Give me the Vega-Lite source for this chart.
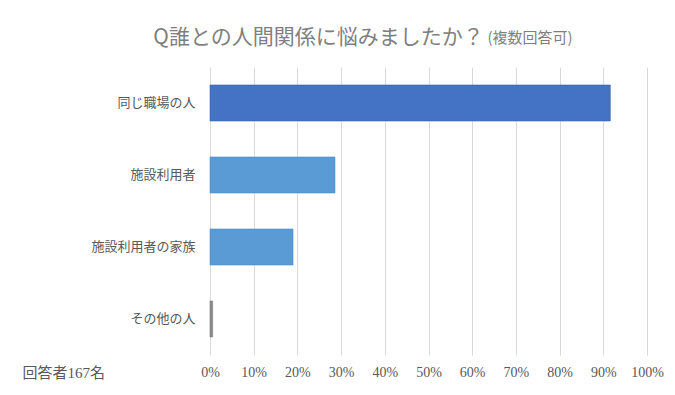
{
  "$schema": "https://vega.github.io/schema/vega-lite/v6.json",
  "autosize": {"type": "none"},
  "width": 437,
  "height": 288,
  "padding": {"left": 210, "top": 67, "right": 28, "bottom": 40},
  "background": "white",
  "title": {
    "text": "Q誰との人間関係に悩みましたか？",
    "font": "Noto Sans CJK JP",
    "fontSize": 21,
    "fontWeight": "normal",
    "color": "#7f7f7f",
    "anchor": "middle",
    "frame": "group",
    "baseline": "middle",
    "dx": -110,
    "dy": 29,
    "offset": 0
  },
  "data": {
    "values": [
      {"target": "同じ職場の人", "share": 0.916},
      {"target": "施設利用者", "share": 0.286},
      {"target": "施設利用者の家族", "share": 0.19},
      {"target": "その他の人", "share": 0.006}
    ]
  },
  "mark": {"type": "bar", "strokeWidth": 0.6},
  "encoding": {
    "y": {
      "field": "target",
      "type": "nominal",
      "sort": null,
      "scale": {"paddingInner": 0.5, "paddingOuter": 0.25},
      "axis": {
        "title": "(複数回答可)",
        "titleAngle": 0,
        "titleX": 277,
        "titleY": -30,
        "titleAlign": "left",
        "titleBaseline": "middle",
        "titleFont": "Noto Sans CJK JP",
        "titleFontSize": 15,
        "titleFontWeight": "normal",
        "titleColor": "#7f7f7f",
        "domain": false,
        "ticks": false,
        "labelPadding": 15,
        "labelFont": "Noto Sans CJK JP",
        "labelFontSize": 13,
        "labelColor": "#595959"
      }
    },
    "x": {
      "field": "share",
      "type": "quantitative",
      "scale": {"domain": [0, 1]},
      "axis": {
        "values": [0, 0.1, 0.2, 0.3, 0.4, 0.5, 0.6, 0.7, 0.8, 0.9, 1],
        "format": ".0%",
        "labelOverlap": false,
        "labelBound": false,
        "labelFlush": false,
        "grid": true,
        "gridColor": "#d9d9d9",
        "gridWidth": 1,
        "domain": false,
        "ticks": false,
        "labelPadding": 10,
        "labelFont": "Liberation Serif",
        "labelFontSize": 14,
        "labelColor": "#595959",
        "title": "回答者167名",
        "titleAngle": 0,
        "titleX": -188,
        "titleY": 17,
        "titleAlign": "left",
        "titleBaseline": "middle",
        "titleFont": "Liberation Serif, Noto Sans CJK JP",
        "titleFontSize": 15,
        "titleFontWeight": "normal",
        "titleColor": "#595959"
      }
    },
    "color": {
      "field": "target",
      "type": "nominal",
      "scale": {
        "domain": ["同じ職場の人", "施設利用者", "施設利用者の家族", "その他の人"],
        "range": ["#4472c4", "#5b9bd5", "#5b9bd5", "#8c8c8c"]
      },
      "legend": null
    },
    "stroke": {
      "field": "target",
      "type": "nominal",
      "scale": {
        "domain": ["同じ職場の人", "施設利用者", "施設利用者の家族", "その他の人"],
        "range": ["#3a64b0", "#4f8cc4", "#4f8cc4", "#7a7a7a"]
      },
      "legend": null
    }
  },
  "config": {"view": {"stroke": null}}
}
